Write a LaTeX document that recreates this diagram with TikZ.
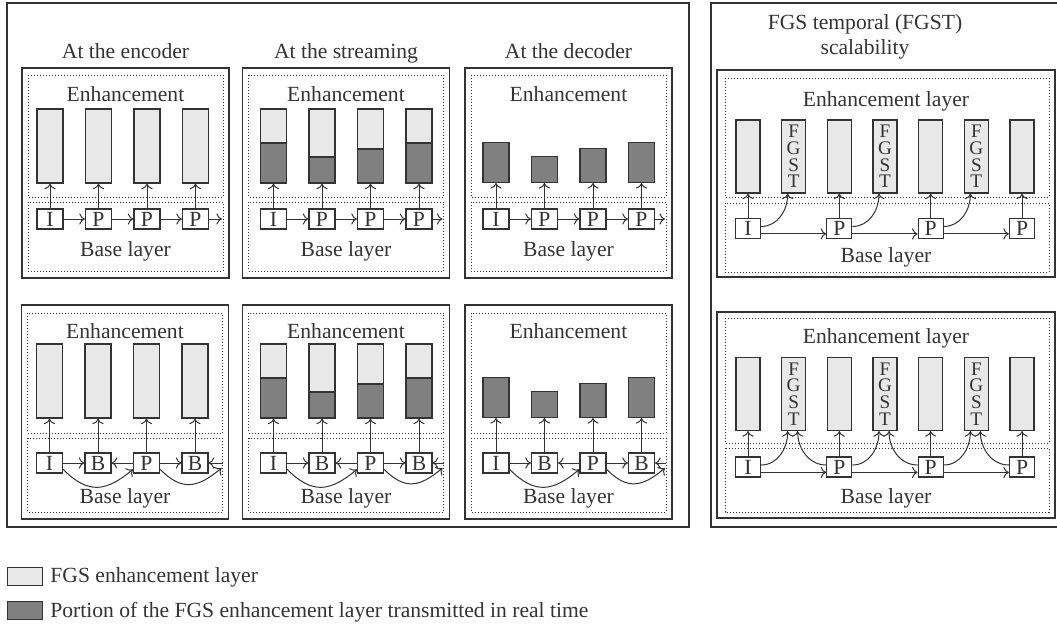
\documentclass[tikz,border=0pt]{standalone}
\usepackage{fontspec}
\setmainfont{Liberation Serif}
\usetikzlibrary{arrows.meta,calc}
\definecolor{lc}{HTML}{333333}
\definecolor{lightg}{HTML}{E8E8E8}
\definecolor{darkg}{HTML}{808080}
\begin{document}
\begin{tikzpicture}[x=0.5pt,y=-0.5pt,
  font=\fontsize{10.8}{12}\selectfont, text=lc,
  outerbox/.style={draw=lc, line width=0.7pt},
  panel/.style={draw=lc, line width=0.7pt},
  dotbox/.style={draw=lc, line width=0.5pt, dash pattern=on 0.5pt off 1pt},
  bar/.style={draw=lc, fill=lightg, line width=0.6pt, minimum width=13pt, minimum height=37pt, inner sep=0pt},
  darkbar/.style={draw=lc, fill=darkg, line width=0.6pt, minimum width=13pt, inner sep=0pt},
  rbar/.style={draw=lc, fill=lightg, line width=0.6pt, minimum width=12pt, minimum height=36.5pt, inner sep=0pt, align=center, font=\fontsize{9.6}{8.4}\selectfont},
  frm/.style={draw=lc, fill=white, line width=0.6pt, minimum width=13pt, minimum height=10pt, inner sep=0pt},
  rfrm/.style={draw=lc, fill=white, line width=0.6pt, minimum width=12.5pt, minimum height=10pt, inner sep=0pt},
  arr/.style={draw=lc, line width=0.5pt, -{To[length=2.8pt,width=5.6pt]}},
  txt/.style={anchor=base, inner sep=0pt},
  lgbox/.style={draw=lc, line width=0.6pt, minimum width=17.5pt, minimum height=9pt, inner sep=0pt, anchor=north west}]

\useasboundingbox (0,0) rectangle (1057,623);

% outer boxes
\draw[outerbox] (7,3) rectangle (689,527);
\draw[outerbox] (711,3) rectangle (1064,527);

% column titles
\node[txt] (ttl1) at (125.5,58) {At the encoder};
\node[txt] (ttl2) at (346,58) {At the streaming};
\node[txt] (ttl3) at (568.5,58) {At the decoder};

% ---------- top row (I P P P) ----------
\foreach \L/\s [count=\c] in {22/-2,242.5/1,465/1}{
  \draw[panel] (\L,68) rectangle (\L+207,278);
  \draw[dotbox] (\L+6,75) rectangle (\L+201,197);
  \draw[dotbox] (\L+6,202) rectangle (\L+201,271);
  \node[txt] (Te\c) at (\L+103.5,101) {Enhancement};
  \node[txt] (Tb\c) at (\L+103.5,256) {Base layer};
  \foreach \i/\lab/\h in {1/I/20,2/P/13,3/P/17,4/P/20}{
    \pgfmathsetmacro\xx{\L+\s+30+(\i-1)*48.5}
    \ifnum\c=3
      \node[darkbar, minimum height=\h pt, anchor=south] (T\c x\i) at (\xx,183) {};
    \else
      \node[bar] (T\c x\i) at (\xx,146) {};
      \ifnum\c=2
        \node[darkbar, minimum height=\h pt, anchor=south] (T\c d\i) at (T\c x\i.south) {};
      \fi
    \fi
    \node[frm] (T\c n\i) at (\xx,219) {\lab};
    \draw[arr] (T\c n\i) -- (T\c x\i);
  }
  \coordinate (T\c e) at (\L+200,219);
  \draw[arr] (T\c n1) -- (T\c n2);
  \draw[arr] (T\c n2) -- (T\c n3);
  \draw[arr] (T\c n3) -- (T\c n4);
  \draw[arr] (T\c n4) -- (T\c e);
}

% ---------- bottom row (I B P B) ----------
\foreach \L/\s [count=\c] in {21.5/-2,242.5/1,465/1}{
  \draw[panel] (\L,305) rectangle (\L+207,519);
  \draw[dotbox] (\L+6,313) rectangle (\L+201,433);
  \draw[dotbox] (\L+6,438) rectangle (\L+201,512);
  \node[txt] (Be\c) at (\L+103.5,338) {Enhancement};
  \node[txt] (Bb\c) at (\L+103.5,503) {Base layer};
  \foreach \i/\lab/\h in {1/I/20,2/B/13,3/P/17,4/B/20}{
    \pgfmathsetmacro\xx{\L+\s+30+(\i-1)*48.5}
    \ifnum\c=3
      \node[darkbar, minimum height=\h pt, anchor=south] (B\c x\i) at (\xx,418) {};
    \else
      \node[bar] (B\c x\i) at (\xx,381) {};
      \ifnum\c=2
        \node[darkbar, minimum height=\h pt, anchor=south] (B\c d\i) at (B\c x\i.south) {};
      \fi
    \fi
    \node[frm] (B\c n\i) at (\xx,463) {\lab};
    \draw[arr] (B\c n\i) -- (B\c x\i);
  }
  \coordinate (B\c e) at (\L+201,463);
  \coordinate (B\c c) at (\L+200,468);
  \draw[arr] (B\c n1) -- (B\c n2);
  \draw[arr] (B\c n3) -- (B\c n2);
  \draw[arr] (B\c n3) -- (B\c n4);
  \draw[arr] (B\c e) -- (B\c n4);
  \draw[arr] (B\c n1.-25) to[out=-45,in=-140,looseness=1.3] (B\c n3.-155);
  \draw[arr] (B\c n3.-25) to[out=-45,in=-140,looseness=1.3] (B\c c);
}

% ---------- right column ----------
\node[txt] (rt1) at (865,29) {FGS temporal (FGST)};
\node[txt] (rt2) at (865,54) {scalability};

\foreach \T/\ptop/\pbot/\etop/\ebot/\btop/\bbot/\et/\bt/\by/\ny [count=\r] in
  {70/277/78/197/203/272/106/262/156.5/228.5, 312/518/318/443/448/512/343/503/394/467}{
  \draw[panel] (717,\T) rectangle (1055,\ptop);
  \draw[dotbox] (725,\pbot) rectangle (1049,\etop);
  \draw[dotbox] (725,\ebot) rectangle (1049,\btop);
  \node[txt] (Re\r) at (886,\bbot) {Enhancement layer};
  \node[txt] (Rb\r) at (886,\et) {Base layer};
  \foreach \i in {1,...,7}{
    \pgfmathsetmacro\xx{748+(\i-1)*45.67}
    \ifodd\i
      \node[rbar] (R\r x\i) at (\xx,\bt) {};
    \else
      \node[rbar] (R\r x\i) at (\xx,\bt) {F\\G\\S\\T};
    \fi
  }
  \foreach \i/\lab in {1/I,3/P,5/P,7/P}{
    \pgfmathsetmacro\xx{748+(\i-1)*45.67}
    \node[rfrm] (R\r n\i) at (\xx,\by) {\lab};
    \draw[arr] (R\r n\i) -- (R\r x\i);
  }
  \draw[arr] ([yshift=-2.7pt]R\r n1.east) -- ([yshift=-2.7pt]R\r n3.west);
  \draw[arr] ([yshift=-2.7pt]R\r n3.east) -- ([yshift=-2.7pt]R\r n5.west);
  \draw[arr] ([yshift=-2.7pt]R\r n5.east) -- ([yshift=-2.7pt]R\r n7.west);
  \draw[arr] ([yshift=1pt]R\r n1.east) to[out=0,in=-90] ([xshift=-3pt]R\r x2.south);
  \draw[arr] ([yshift=1pt]R\r n3.east) to[out=0,in=-90] ([xshift=-3pt]R\r x4.south);
  \draw[arr] ([yshift=1pt]R\r n5.east) to[out=0,in=-90] ([xshift=-3pt]R\r x6.south);
  \ifnum\r=2
    \draw[arr] ([yshift=1pt]R\r n3.west) to[out=180,in=-90] ([xshift=2pt]R\r x2.south);
    \draw[arr] ([yshift=1pt]R\r n5.west) to[out=180,in=-90] ([xshift=2pt]R\r x4.south);
    \draw[arr] ([yshift=1pt]R\r n7.west) to[out=180,in=-90] ([xshift=2pt]R\r x6.south);
  \fi
}

% ---------- legend ----------
\node[lgbox, fill=lightg] (lg1) at (7,567) {};
\node[txt, anchor=base west] (lt1) at (50,582) {FGS enhancement layer};
\node[lgbox, fill=darkg] (lg2) at (7,601) {};
\node[txt, anchor=base west] (lt2) at (50,617) {Portion of the FGS enhancement layer transmitted in real time};
\end{tikzpicture}
\end{document}
